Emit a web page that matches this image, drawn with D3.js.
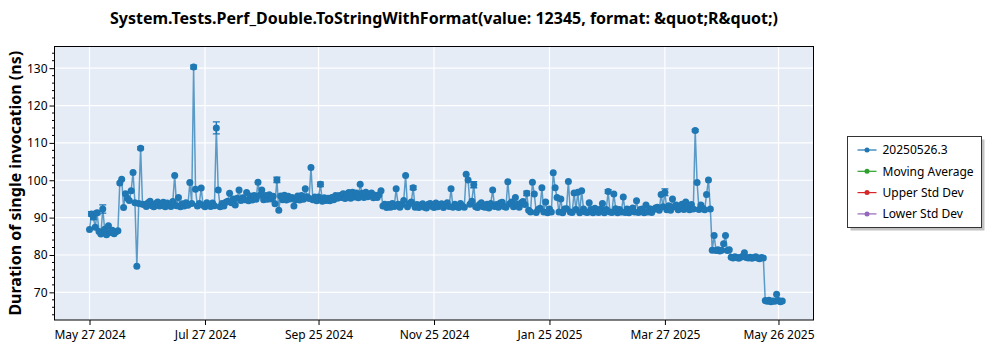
<!DOCTYPE html>
<html>
<head>
<meta charset="utf-8">
<script src="https://cdn.jsdelivr.net/npm/d3@7"></script>
<style>
  body { margin: 0; background: #ffffff; }
  svg { display: block; }
  text { font-family: "Noto Sans", "Open Sans", sans-serif; }
</style>
</head>
<body>
<svg id="chart" width="1000" height="350"></svg>
<script>
// ---- data -------------------------------------------------------------
const chartTitle = "System.Tests.Perf_Double.ToStringWithFormat(value: 12345, format: &quot;R&quot;)";
const yTitle = "Duration of single invocation (ns)";
const legendNames = ["20250526.3", "Moving Average", "Upper Std Dev", "Lower Std Dev"];

// one measurement per day, starting on this date
const firstDay = "2024-05-27";
const durations = [
  86.8, 91.0, 90.2, 87.4, 91.3, 86.3, 85.6, 92.3, 86.9, 85.4,
  87.8, 86.0, 86.6, 85.7, 86.2, 86.5,
  99.3, 100.3, 92.7, 96.4, 95.2, 94.6, 97.2, 102.1, 94.0, 77.0, 93.8, 108.6, 93.6,
  93.5, 93.0, 94.0, 94.4, 93.2, 92.9, 93.8, 94.2, 93.1, 93.6,
  94.1, 92.9, 93.9, 93.4, 93.0, 94.3, 101.3, 93.2, 95.4, 92.9,
  93.7, 93.1, 94.0, 93.3, 99.4, 93.8,
  130.3, 97.6, 93.1, 93.8, 97.9, 93.3, 92.9, 94.0, 93.5, 93.0,
  93.9, 93.2, 114.0, 97.4, 92.9, 93.8, 93.1, 94.1, 94.4, 96.5,
  94.0, 95.0, 93.4, 95.2, 97.4, 94.6, 95.3, 94.8, 96.7, 94.5,
  95.8, 94.7, 95.9, 94.9, 99.5, 96.0, 97.4, 94.8, 95.9, 94.9,
  96.1, 95.0, 95.7, 93.7, 100.1, 92.0,
  95.8, 94.8, 96.0, 94.7, 95.7, 95.0, 95.4, 93.1, 94.8, 95.8,
  94.7, 95.9, 94.9, 97.7, 95.6, 95.1, 103.4, 94.8, 95.5, 94.5,
  95.5, 98.9, 94.4, 95.3, 94.6, 95.2, 94.5, 95.4, 94.8, 95.9,
  95.2, 95.9, 95.4, 96.4, 95.1, 96.3, 96.7, 95.2, 96.8, 95.5,
  96.6, 95.3, 98.9, 96.5, 95.4, 96.8, 95.6, 96.0, 96.6, 95.3,
  96.0, 95.4, 96.1, 97.2,
  93.1, 93.6, 92.7, 93.5, 92.8, 93.8, 93.0, 97.7, 93.6, 92.8,
  93.5, 94.6, 101.3, 92.9, 93.7, 94.2, 98.0, 92.8, 93.5, 92.7,
  93.4, 93.7, 92.8, 92.6, 93.6, 93.8, 93.0, 92.7, 93.9, 92.9,
  93.5, 93.7, 92.7, 93.3, 94.0, 93.0, 97.7, 92.8, 93.6, 93.0,
  92.7, 93.8, 93.1, 92.8, 101.6, 100.1, 93.6, 94.4, 98.8, 92.9,
  92.7, 93.5, 94.0, 92.9, 92.8, 93.6, 92.6, 93.8, 97.4, 93.0,
  93.5, 92.8, 93.9, 94.1, 93.0, 92.8, 99.6, 93.7, 94.2, 92.9,
  95.4, 93.6, 92.8, 93.9, 94.3, 93.5, 96.5,
  92.0, 91.5, 99.5, 96.3, 91.4, 92.2, 92.5, 98.0, 91.5, 94.2,
  91.3, 92.3, 91.5, 102.0, 98.0, 95.4, 91.5, 95.0, 91.3, 92.3,
  92.4, 99.7, 91.5, 91.4, 96.6, 92.2, 96.8, 91.3, 97.2, 92.3,
  91.5, 91.4, 94.0, 92.2, 91.3, 92.5, 91.6, 91.4, 92.3, 93.8,
  91.3, 92.2, 97.0, 91.5, 91.4, 96.3, 92.4, 91.3, 92.2, 91.5,
  95.5, 91.4, 92.3, 91.3, 92.2, 92.6, 91.5, 94.5, 91.4, 92.2,
  92.3, 91.3, 93.4, 91.5, 92.4, 91.4, 92.2, 92.6, 92.8, 92.0,
  96.2, 92.9, 96.8, 92.1, 93.2, 92.0, 95.0, 92.9, 93.4, 92.1,
  93.0, 93.6, 92.2, 94.2, 93.1, 92.1, 93.5, 92.3, 113.3, 99.4,
  92.2, 93.4, 92.5, 92.1, 96.2, 100.1, 92.3,
  81.3, 85.2, 81.2, 81.4, 81.1, 81.3, 83.0, 85.2, 81.2, 81.4,
  79.4, 79.2, 79.5, 79.3, 79.1, 79.4, 79.6, 80.6, 79.3, 79.2,
  79.4, 79.1, 79.3, 79.5, 79.2, 79.0, 79.3, 79.2,
  67.8, 67.6, 67.9, 67.5, 67.7, 67.6, 69.5, 67.8, 67.5, 67.7
];

// measurement spread (± ns) for the days that report one
const errorDays  = [1, 2, 4, 7, 27, 55, 67, 99, 122, 171, 203, 231, 274, 304, 320];
const errorSizes = [0.6, 0.7, 0.5, 1.1, 0.4, 0.5, 1.6, 0.7, 0.6, 0.5, 0.8, 0.6, 0.5, 0.9, 0.3];

const xTickDates = ["2024-05-27", "2024-07-27", "2024-09-25", "2024-11-25",
                    "2025-01-25", "2025-03-27", "2025-05-26"];
const yTicks = [70, 80, 90, 100, 110, 120, 130];
const yMinorTicks = d3.range(64, 136, 2);

// ---- layout -----------------------------------------------------------
const svg = d3.select("#chart");
const plot = { left: 54.5, right: 813.5, top: 46.5, bottom: 320 };
const seriesColors = ["#1f77b4", "#2ca02c", "#d62728", "#9467bd"];
const parseDay = d3.utcParse("%Y-%m-%d");

const day0 = parseDay(firstDay);
const points = durations.map((v, i) => ({ date: d3.utcDay.offset(day0, i), value: v, err: 0 }));
errorDays.forEach((d, k) => { points[d].err = errorSizes[k]; });

const tickDates = xTickDates.map(parseDay);
const xDomain = [d3.utcHour.offset(tickDates[0], -18.5 * 24),
                 d3.utcHour.offset(tickDates[tickDates.length - 1], 18.5 * 24)];

const x = d3.scaleUtc().domain(xDomain).range([plot.left, plot.right]);
const y = d3.scaleLinear().domain([62.6, 135.8]).range([plot.bottom, plot.top]);

// plot background
svg.append("rect")
  .attr("x", plot.left).attr("y", plot.top)
  .attr("width", plot.right - plot.left).attr("height", plot.bottom - plot.top)
  .attr("fill", "#e5ecf6");

// grid
const grid = svg.append("g").attr("stroke", "#ffffff").attr("stroke-width", 1.2);
grid.selectAll("line.gx").data(tickDates).join("line")
  .attr("x1", d => x(d)).attr("x2", d => x(d))
  .attr("y1", plot.top).attr("y2", plot.bottom);
grid.selectAll("line.gy").data(yTicks).join("line")
  .attr("y1", d => y(d)).attr("y2", d => y(d))
  .attr("x1", plot.left).attr("x2", plot.right);

// series
svg.append("clipPath").attr("id", "plotClip")
  .append("rect").attr("x", plot.left).attr("y", plot.top)
  .attr("width", plot.right - plot.left).attr("height", plot.bottom - plot.top);
const series = svg.append("g").attr("clip-path", "url(#plotClip)");
const blue = seriesColors[0];

series.append("path")
  .datum(points)
  .attr("fill", "none")
  .attr("stroke", blue)
  .attr("stroke-width", 1.5)
  .attr("stroke-opacity", 0.7)
  .attr("d", d3.line().x(d => x(d.date)).y(d => y(d.value)));

const errs = points.filter(p => p.err > 0);
const eg = series.append("g").attr("stroke", blue).attr("stroke-width", 1.3);
eg.selectAll("line.v").data(errs).join("line")
  .attr("x1", d => x(d.date)).attr("x2", d => x(d.date))
  .attr("y1", d => y(d.value - d.err)).attr("y2", d => y(d.value + d.err));
eg.selectAll("line.t").data(errs).join("line")
  .attr("x1", d => x(d.date) - 3.5).attr("x2", d => x(d.date) + 3.5)
  .attr("y1", d => y(d.value + d.err)).attr("y2", d => y(d.value + d.err));
eg.selectAll("line.b").data(errs).join("line")
  .attr("x1", d => x(d.date) - 3.5).attr("x2", d => x(d.date) + 3.5)
  .attr("y1", d => y(d.value - d.err)).attr("y2", d => y(d.value - d.err));

series.append("g").selectAll("circle").data(points).join("circle")
  .attr("cx", d => x(d.date)).attr("cy", d => y(d.value))
  .attr("r", 3.5).attr("fill", blue);

// axes
const xAxis = svg.append("g")
  .attr("transform", `translate(0,${plot.bottom})`)
  .call(d3.axisBottom(x).tickValues(tickDates).tickFormat(d3.utcFormat("%b %d %Y"))
    .tickSize(5).tickSizeOuter(0));
xAxis.select(".domain").remove();
xAxis.selectAll("text").attr("font-size", 12).attr("fill", "#000").attr("dy", "0.95em");
xAxis.selectAll("line").attr("stroke", "#000");

const yAxis = svg.append("g")
  .attr("transform", `translate(${plot.left},0)`)
  .call(d3.axisLeft(y).tickValues(yTicks).tickSize(5).tickSizeOuter(0));
yAxis.select(".domain").remove();
yAxis.selectAll("text").attr("font-size", 12).attr("fill", "#000").attr("x", -7);
yAxis.selectAll("line").attr("stroke", "#000");

svg.append("g").selectAll("line").data(yMinorTicks.filter(v => !yTicks.includes(v))).join("line")
  .attr("x1", plot.left - 2.5).attr("x2", plot.left)
  .attr("y1", d => y(d)).attr("y2", d => y(d))
  .attr("stroke", "#000");

// frame
svg.append("rect")
  .attr("x", plot.left).attr("y", plot.top)
  .attr("width", plot.right - plot.left).attr("height", plot.bottom - plot.top)
  .attr("fill", "none").attr("stroke", "#000").attr("stroke-width", 1);

// titles
svg.append("text")
  .attr("x", 444).attr("y", 24)
  .attr("text-anchor", "middle").attr("font-weight", "bold").attr("font-size", 16)
  .attr("fill", "#000")
  .text(chartTitle);

svg.append("text")
  .attr("transform", `translate(21,${(plot.top + plot.bottom) / 2}) rotate(-90)`)
  .attr("text-anchor", "middle").attr("font-weight", "bold").attr("font-size", 16)
  .attr("fill", "#000")
  .text(yTitle);

// legend
const legend = svg.append("g").attr("transform", "translate(847.5,136.5)");
legend.append("rect").attr("x", 3).attr("y", 3).attr("width", 134).attr("height", 91)
  .attr("fill", "#9a9a9a").attr("opacity", 0.6);
legend.append("rect").attr("width", 134).attr("height", 91)
  .attr("fill", "#ffffff").attr("stroke", "#333").attr("stroke-width", 1);
const rows = legend.selectAll("g.row").data(legendNames).join("g")
  .attr("transform", (d, i) => `translate(0,${13.5 + i * 21.3})`);
rows.append("line").attr("x1", 10).attr("x2", 29).attr("y1", 0).attr("y2", 0)
  .attr("stroke", (d, i) => seriesColors[i]).attr("stroke-width", 1.2);
rows.append("circle").attr("cx", 19.5).attr("cy", 0).attr("r", 2.5)
  .attr("fill", (d, i) => seriesColors[i]);
rows.append("text").attr("x", 35).attr("y", 0).attr("dy", "0.35em")
  .attr("font-size", 12).attr("fill", "#000").text(d => d);
</script>
</body>
</html>
